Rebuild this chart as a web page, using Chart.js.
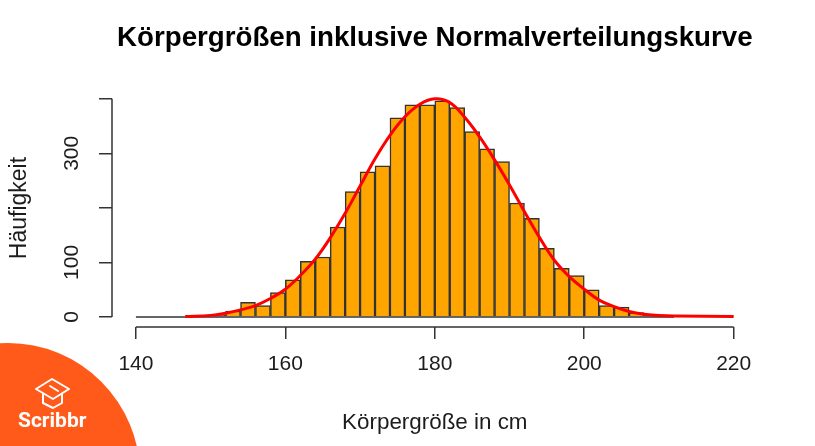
<!DOCTYPE html>
<html lang="de">
<head>
<meta charset="utf-8">
<title>Körpergrößen</title>
<script src="https://cdn.jsdelivr.net/npm/chart.js@4"></script>
<style>
  html, body { margin: 0; padding: 0; background: #fff; overflow: hidden; }
  #wrap { position: relative; width: 815px; height: 446px; }
  #badge { position: absolute; left: 0; top: 0; pointer-events: none; }
</style>
</head>
<body>
<div id="wrap">
  <canvas id="heightChart" width="815" height="446"></canvas>
  <svg id="badge" width="815" height="446" viewBox="0 0 815 446">
    <circle cx="8" cy="475" r="132" fill="#ff5a1a"/>
    <g fill="none" stroke="#fff" stroke-width="2" stroke-linejoin="round" stroke-linecap="round">
      <path d="M36 389 L52 379 L69 389 L53 399 Z"/>
      <path d="M43 394 V403 L53 408 L62 403 V394"/>
      <path d="M50 386 L58 391"/>
    </g>
    <text x="18" y="427" fill="#fff" font-family="Roboto, sans-serif" font-weight="700" font-size="21">Scribbr</text>
  </svg>
</div>
<script>
const binCenters = [141, 143, 145, 147, 149, 151, 153, 155, 157, 159, 161, 163, 165, 167, 169, 171, 173, 175, 177, 179, 181, 183, 185, 187, 189, 191, 193, 195, 197, 199, 201, 203, 205, 207, 209, 211];
const binCounts = [0, 0, 0, 0, 1, 3, 11, 27, 21, 45, 68, 102, 110, 165, 230, 266, 277, 365, 389, 389, 396, 384, 340, 308, 285, 209, 181, 126, 89, 76, 50, 21, 18, 8, 3, 1];

const curveX = [146.6, 150, 152, 154, 156, 158, 160, 162, 164, 166, 168, 170, 172, 174, 176, 178, 180, 182, 184, 186, 188, 190, 192, 194, 196, 198, 200, 202, 204, 206, 208, 210, 212, 220];
const curveY = [1, 3, 7, 13, 21, 34, 51, 76, 106, 145, 190, 240, 290, 333, 367, 390, 400, 393, 366, 330, 288, 242, 193, 146, 104, 74, 51, 31, 19, 10, 5, 3, 2, 1];

const xTicks = [140, 160, 180, 200, 220];
const yTicks = [0, 100, 200, 300, 400];
const yLabelled = [0, 100, 300];

const textColor = '#1c1c1c';
const axisColor = '#333333';
const fontFamily = '"Liberation Sans", Arial, sans-serif';

// R style axes: the line only runs from first to last tick
const axisLines = {
  id: 'axisLines',
  afterDraw(chart) {
    const { ctx, scales: { x, y } } = chart;
    ctx.save();
    ctx.strokeStyle = axisColor;
    ctx.lineWidth = 1.5;
    ctx.beginPath();
    ctx.moveTo(x.getPixelForValue(xTicks[0]), x.top);
    ctx.lineTo(x.getPixelForValue(xTicks[xTicks.length - 1]), x.top);
    ctx.moveTo(y.right, y.getPixelForValue(yTicks[0]));
    ctx.lineTo(y.right, y.getPixelForValue(yTicks[yTicks.length - 1]));
    ctx.stroke();
    ctx.restore();
  }
};

new Chart(document.getElementById('heightChart').getContext('2d'), {
  type: 'bar',
  data: {
    datasets: [
      {
        type: 'line',
        label: 'Normalverteilung',
        data: curveX.map((v, i) => ({ x: v, y: curveY[i] })),
        borderColor: '#ff0000',
        borderWidth: 3,
        pointRadius: 0,
        tension: 0.4,
        order: 0
      },
      {
        type: 'line',
        label: 'Basis',
        data: [{ x: binCenters[0] - 1, y: 0 }, { x: binCenters[binCenters.length - 1] + 1, y: 0 }],
        borderColor: axisColor,
        borderWidth: 1.5,
        pointRadius: 0,
        order: 1
      },
      {
        label: 'Häufigkeit',
        data: binCenters.map((v, i) => ({ x: v, y: binCounts[i] })),
        backgroundColor: '#ffa500',
        borderColor: axisColor,
        borderWidth: 1.5,
        barPercentage: 1,
        categoryPercentage: 1,
        order: 2
      }
    ]
  },
  options: {
    responsive: false,
    animation: false,
    layout: { padding: { right: 57.4 } },
    scales: {
      x: {
        type: 'linear',
        offset: false,
        min: 136.8,
        max: 223.2,
        afterBuildTicks: (axis) => { axis.ticks = xTicks.map(v => ({ value: v })); },
        afterFit: (axis) => { axis.height = 119; },
        grid: { offset: false, drawOnChartArea: false, color: axisColor, lineWidth: 1.5, tickLength: 12 },
        border: { display: false },
        ticks: { color: textColor, font: { family: fontFamily, size: 21 }, padding: 13, maxRotation: 0, autoSkip: false },
        title: {
          display: true,
          text: 'Körpergröße in cm',
          color: textColor,
          font: { family: fontFamily, size: 22.4 },
          padding: { top: 0, bottom: 10 }
        }
      },
      y: {
        min: -18.3,
        max: 417.8,
        afterBuildTicks: (axis) => { axis.ticks = yTicks.map(v => ({ value: v })); },
        afterFit: (axis) => { axis.width = 112; },
        grid: { drawOnChartArea: false, color: axisColor, lineWidth: 1.5, tickLength: 13 },
        border: { display: false },
        ticks: {
          color: textColor,
          font: { family: fontFamily, size: 21 },
          padding: 9.5,
          minRotation: 90,
          maxRotation: 90,
          autoSkip: false,
          crossAlign: 'center',
          callback: (v) => (yLabelled.includes(v) ? String(v) : '')
        },
        title: {
          display: true,
          text: 'Häufigkeit',
          color: textColor,
          font: { family: fontFamily, size: 23 },
          padding: { top: 6, bottom: 0 }
        }
      }
    },
    plugins: {
      legend: { display: false },
      tooltip: { enabled: false },
      title: {
        display: true,
        fullSize: false,
        text: 'Körpergrößen inklusive Normalverteilungskurve',
        color: '#000',
        font: { family: fontFamily, size: 27.7, weight: 'bold' },
        padding: { top: 22, bottom: 33.8 }
      }
    }
  },
  plugins: [axisLines]
});
</script>
</body>
</html>
